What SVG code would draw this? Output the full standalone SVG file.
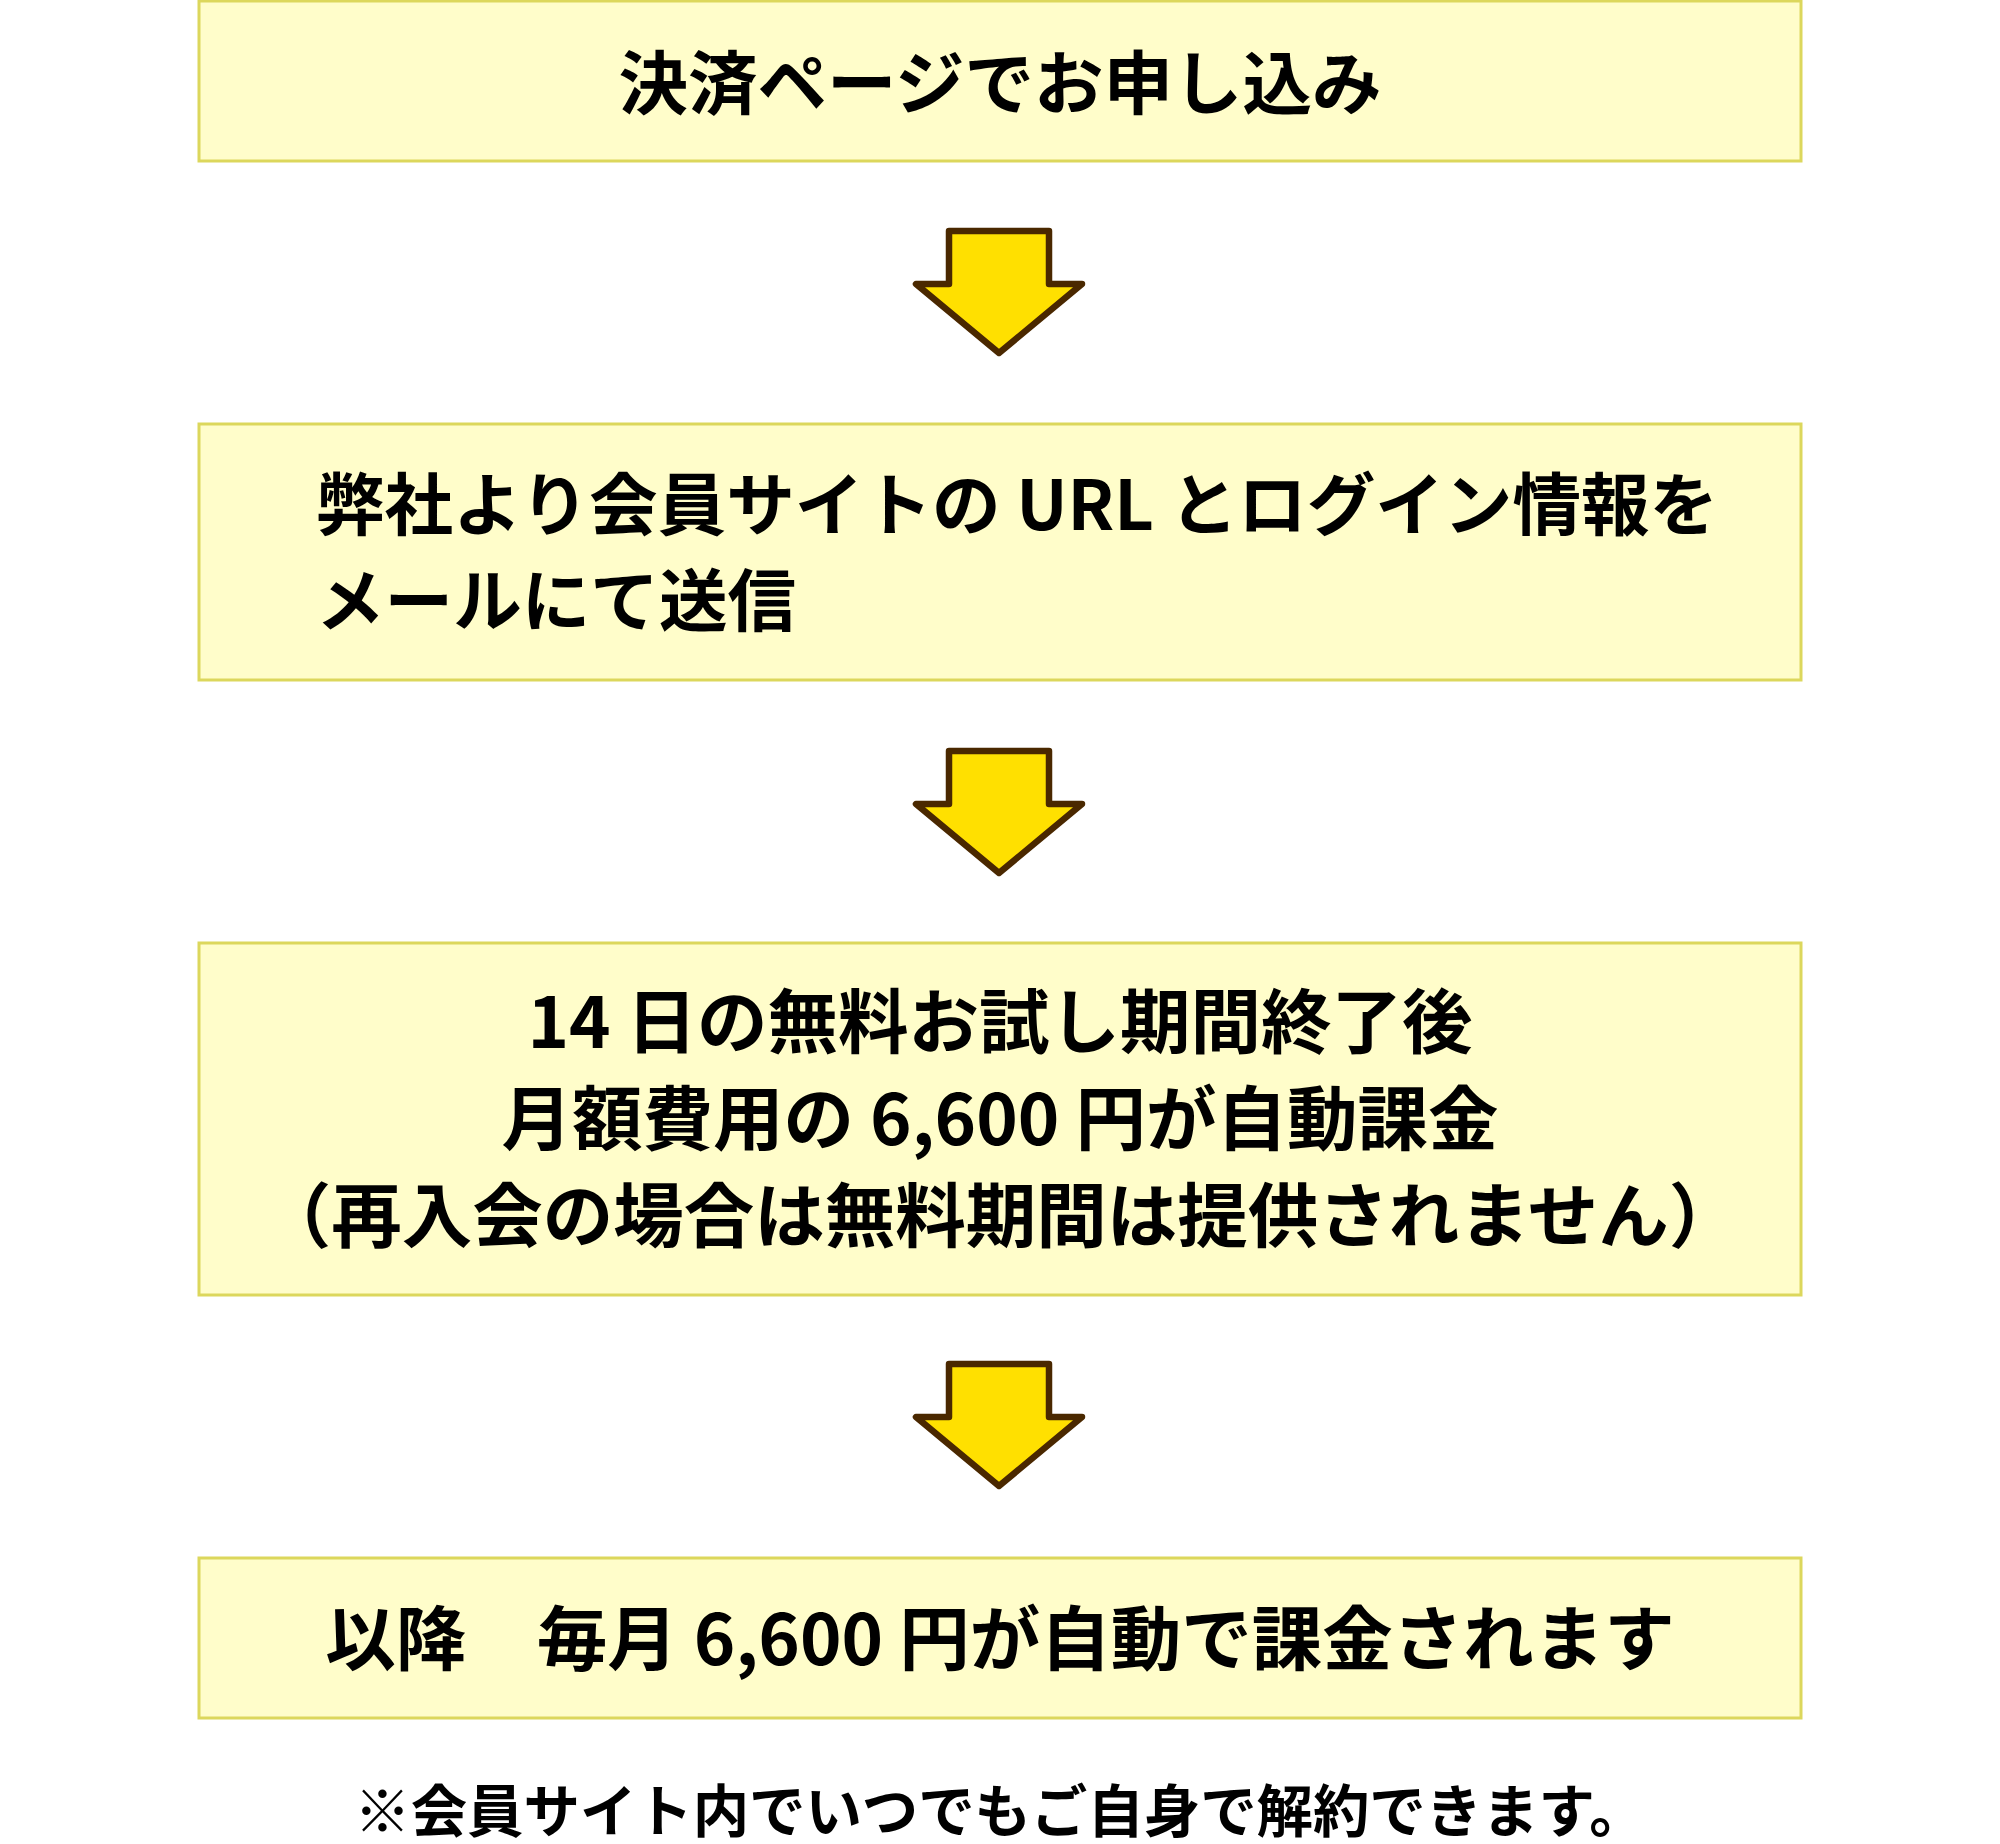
<svg xmlns="http://www.w3.org/2000/svg" width="2000" height="1844" viewBox="0 0 2000 1844">
<style>
.box{fill:#FFFDCA;stroke:#DCD75C;stroke-width:3}
.t{font-family:"Noto Sans CJK JP","Noto Sans",sans-serif;font-weight:700;font-size:68px;fill:#000}
.c{text-anchor:middle}
.s1{font-size:69.5px}
.s2{font-size:68.6px}
.s3{font-size:70.5px}
.note{font-size:56.4px}
.arrow{fill:#FFE000;stroke:#4A2800;stroke-width:6.5;stroke-linejoin:round}
</style>
<defs>
<path id="arr" d="M949,0 H1049 V53 H1082 L999,122 L916,53 H949 Z"/>
</defs>
<rect width="2000" height="1844" fill="#FFFFFF"/>
<g id="connectors">
<use href="#arr" class="arrow" transform="translate(0,231)"/>
<use href="#arr" class="arrow" transform="translate(0,751)"/>
<use href="#arr" class="arrow" transform="translate(0,1364)"/>
</g>
<g id="node1">
<rect class="box" x="199" y="1" width="1602" height="160"/>
<text class="t c s1" x="1000" y="109">決済ページでお申し込み</text>
</g>
<g id="node2">
<rect class="box" x="199" y="424" width="1602" height="256"/>
<text class="t s2" x="316" y="530">弊社より会員サイトの URL とログイン情報を</text>
<text class="t s2" x="316" y="626">メールにて送信</text>
</g>
<g id="node3">
<rect class="box" x="199" y="943" width="1602" height="352"/>
<text class="t c s3" x="1000" y="1048">14 日の無料お試し期間終了後</text>
<text class="t c s3" x="1000" y="1145">月額費用の 6,600 円が自動課金</text>
<text class="t c s3" x="1000" y="1242">（再入会の場合は無料期間は提供されません）</text>
</g>
<g id="node4">
<rect class="box" x="199" y="1558" width="1602" height="160"/>
<text class="t c s3" x="1000" y="1665">以降　毎月 6,600 円が自動で課金されます</text>
</g>
<g id="note">
<text class="t c note" x="1000" y="1832">※会員サイト内でいつでもご自身で解約できます。</text>
</g>
</svg>
